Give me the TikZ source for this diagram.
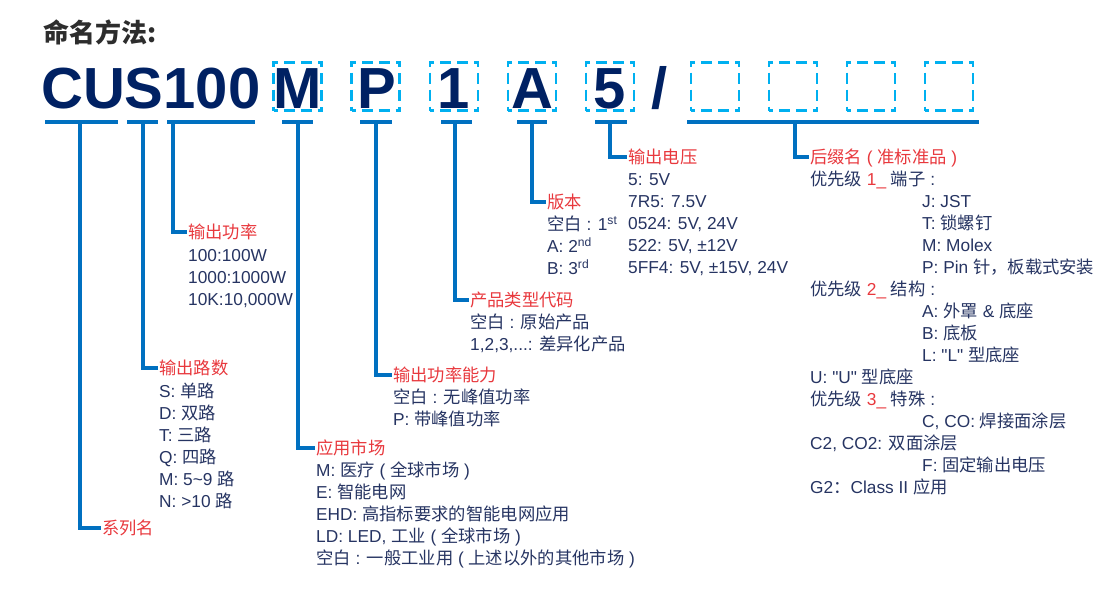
\documentclass[tikz,border=0pt]{standalone}
\usepackage{fontspec}
\setmainfont{Liberation Sans}
\newfontfamily\cjk{Noto Sans CJK SC}
\newfontfamily\plainf{Liberation Sans}[Ligatures=TeXOff]
\newcommand\zh[1]{{\cjk #1}}
\newcommand\dq{{\plainf"}}
\definecolor{navy}{RGB}{0,33,99}
\definecolor{cyanb}{RGB}{0,176,240}
\definecolor{barblue}{RGB}{0,112,192}
\definecolor{redh}{RGB}{232,56,61}
\definecolor{txtc}{RGB}{38,52,98}
\definecolor{ttl}{RGB}{45,45,45}
\tikzset{
  big/.style={font=\fontsize{58}{58}\selectfont\bfseries, text=navy, inner sep=0, anchor=base},
  dbox/.style={draw=cyanb, line width=2.6pt, minimum width=48pt, minimum height=48pt, inner sep=0,
    dash pattern=on 8pt off 6pt on 11pt off 6pt on 11pt off 6pt, dash phase=4pt},
  bar/.style={fill=barblue, minimum height=4.5pt, inner sep=0, draw=none},
  conn/.style={draw=barblue, line width=4pt, shorten >=1.5pt},
  hd/.style={text=redh, font=\fontsize{17.3}{22}\selectfont, anchor=west, inner sep=0, text height=16pt, text depth=3.4pt},
  tx/.style={hd, text=txtc}
}
\begin{document}
\begin{tikzpicture}[x=1pt,y=-1pt]
\useasboundingbox (0,0) rectangle (1109,590);
% title
\node[anchor=west, inner sep=0, font=\cjk\bfseries\fontsize{26}{26}\selectfont, text=ttl] (title) at (43,32) {命名方法:};
% big code
\node[big, anchor=base west] (cus) at (41,108) {CUS100};
\node[dbox] (bM) at (297.5,86.5) {};
\node[dbox] (bP) at (375.5,86.5) {};
\node[dbox] (b1) at (454,86.5) {};
\node[dbox] (bA) at (532,86.5) {};
\node[dbox] (b5) at (610,86.5) {};
\node[dbox] (e1) at (715,86.5) {};
\node[dbox] (e2) at (793,86.5) {};
\node[dbox] (e3) at (871,86.5) {};
\node[dbox] (e4) at (949,86.5) {};
\node[big] (cM) at (297.5,108) {M};
\node[big] (cP) at (377,108) {P};
\node[big] (c1) at (454,108) {1};
\node[big] (cA) at (532,108) {A};
\node[big] (c5) at (610,108) {5};
\node[big] (slash) at (660,108) {/};
% bars
\node[bar, minimum width=73pt] (barC) at (81.5,122) {};
\node[bar, minimum width=31pt] (barS) at (142.5,122) {};
\node[bar, minimum width=88pt] (bar100) at (211,122) {};
\node[bar, minimum width=31pt] (barM) at (297.5,122) {};
\node[bar, minimum width=32pt] (barP) at (376,122) {};
\node[bar, minimum width=31pt] (bar1) at (456,122) {};
\node[bar, minimum width=30pt] (barA) at (532,122) {};
\node[bar, minimum width=32pt] (bar5) at (611,122) {};
\node[bar, minimum width=292pt] (barSuf) at (833,122) {};
% 输出功率
\node[hd] (h100) at (188,232) {\zh{输出功率}};
\node[tx] (l100a) at (188,255) {100:100W};
\node[tx] (l100b) at (188,277) {1000:1000W};
\node[tx] (l100c) at (188,299) {10K:10,000W};
% 输出路数
\node[hd] (hS) at (159,368) {\zh{输出路数}};
\node[tx] (lSa) at (159,391) {S: \zh{单路}};
\node[tx] (lSb) at (159,413) {D: \zh{双路}};
\node[tx] (lSc) at (159,435) {T: \zh{三路}};
\node[tx] (lSd) at (159,457) {Q: \zh{四路}};
\node[tx] (lSe) at (159,479) {M: 5\textasciitilde 9 \zh{路}};
\node[tx] (lSf) at (159,501) {N: >10 \zh{路}};
% 系列名
\node[hd] (hC) at (102,528) {\zh{系列名}};
% 应用市场
\node[hd] (hM) at (316,448) {\zh{应用市场}};
\node[tx] (lMa) at (316,470) {M: \zh{医疗} ( \zh{全球市场} )};
\node[tx] (lMb) at (316,492) {E: \zh{智能电网}};
\node[tx] (lMc) at (316,514) {EHD: \zh{高指标要求的智能电网应用}};
\node[tx] (lMd) at (316,536) {LD: LED, \zh{工业} ( \zh{全球市场} )};
\node[tx] (lMe) at (316,558) {\zh{空白} : \zh{一般工业用} ( \zh{上述以外的其他市场} )};
% 输出功率能力
\node[hd] (hP) at (393,375) {\zh{输出功率能力}};
\node[tx] (lPa) at (393,397) {\zh{空白} : \zh{无峰值功率}};
\node[tx] (lPb) at (393,419) {P: \zh{带峰值功率}};
% 产品类型代码
\node[hd] (h1) at (470,300) {\zh{产品类型代码}};
\node[tx] (l1a) at (470,322) {\zh{空白} : \zh{原始产品}};
\node[tx] (l1b) at (470,344) {1,2,3,...: \zh{差异化产品}};
% 版本
\node[hd] (hA) at (547,202) {\zh{版本}};
\node[tx] (lAa) at (547,224) {\zh{空白} : 1\textsuperscript{st}};
\node[tx] (lAb) at (547,246) {A: 2\textsuperscript{nd}};
\node[tx] (lAc) at (547,268) {B: 3\textsuperscript{rd}};
% 输出电压
\node[hd] (h5) at (628,157) {\zh{输出电压}};
\node[tx] (l5a) at (628,179) {5: 5V};
\node[tx] (l5b) at (628,201) {7R5: 7.5V};
\node[tx] (l5c) at (628,223) {0524: 5V, 24V};
\node[tx] (l5d) at (628,245) {522: 5V, ±12V};
\node[tx] (l5e) at (628,267) {5FF4: 5V, ±15V, 24V};
% 后缀名
\node[hd] (hSuf) at (810,157) {\zh{后缀名} ( \zh{准标准品} )};
\node[tx] (s1) at (810,179) {\zh{优先级} \textcolor{redh}{1\_} \zh{端子} :};
\node[tx] (s1a) at (922,201) {J: JST};
\node[tx] (s1b) at (922,223) {T: \zh{锁螺钉}};
\node[tx] (s1c) at (922,245) {M: Molex};
\node[tx] (s1d) at (922,267) {P: Pin \zh{针，板载式安装}};
\node[tx] (s2) at (810,289) {\zh{优先级} \textcolor{redh}{2\_} \zh{结构} :};
\node[tx] (s2a) at (922,311) {A: \zh{外罩} \& \zh{底座}};
\node[tx] (s2b) at (922,333) {B: \zh{底板}};
\node[tx] (s2c) at (922,355) {L: \dq L\dq{} \zh{型底座}};
\node[tx] (s2d) at (810,377) {U: \dq U\dq{} \zh{型底座}};
\node[tx] (s3) at (810,399) {\zh{优先级} \textcolor{redh}{3\_} \zh{特殊} :};
\node[tx] (s3a) at (922,421) {C, CO: \zh{焊接面涂层}};
\node[tx] (s3b) at (810,443) {C2, CO2: \zh{双面涂层}};
\node[tx] (s3c) at (922,465) {F: \zh{固定输出电压}};
\node[tx] (s3d) at (810,487) {G2\zh{：}Class II \zh{应用}};
% connectors
\draw[conn] ([xshift=-1.5pt]barC.center) |- (hC.west);
\draw[conn] (barS.center) |- (hS.west);
\draw[conn] ([xshift=6pt]bar100.west) |- (h100.west);
\draw[conn] (barM.center) |- (hM.west);
\draw[conn] (barP.center) |- (hP.west);
\draw[conn] ([xshift=-1.5pt]bar1.center) |- (h1.west);
\draw[conn] (barA.center) |- (hA.west);
\draw[conn] ([xshift=-1pt]bar5.center) |- (h5.west);
\draw[conn] ([xshift=108pt]barSuf.west) |- (hSuf.west);
\end{tikzpicture}
\end{document}
